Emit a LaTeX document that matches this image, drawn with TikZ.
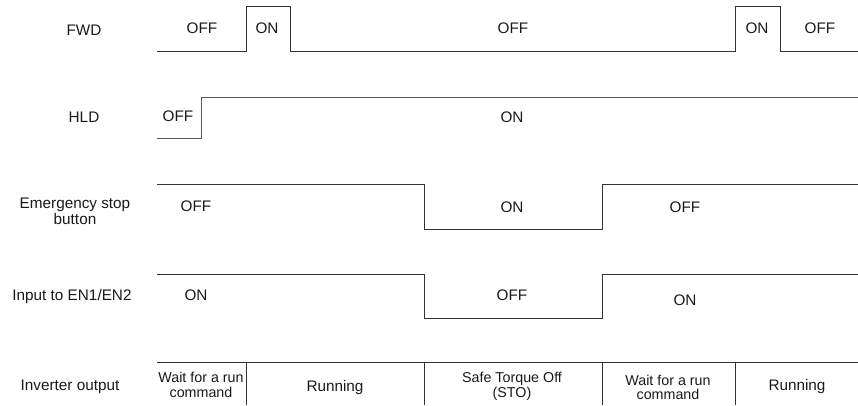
\documentclass[tikz,border=0pt]{standalone}
\usepackage{fontspec}
\setmainfont{Liberation Sans}
\begin{document}
\begin{tikzpicture}[x=1pt,y=-1pt,
  sig/.style={draw=black!80, line width=0.95pt, line join=miter},
  lbl/.style={anchor=base, inner sep=0pt, font=\fontsize{15.3}{17}\selectfont, text=black!90},
  sm/.style={anchor=base, inner sep=0pt, font=\fontsize{14.3}{16}\selectfont, text=black!90, align=center}]
\useasboundingbox (0,0) rectangle (858,405);
% row labels
\node[lbl] (lfwd) at (84,35) {FWD};
\node[lbl] (lhld) at (84,122) {HLD};
\node[lbl] (lem1) at (75,208) {Emergency stop};
\node[lbl] (lem2) at (75,224) {button};
\node[lbl] (len) at (72,300) {Input to EN1/EN2};
\node[lbl] (linv) at (70,390) {Inverter output};
% FWD
\draw[sig] (157,51) -- (246,51) -- (246,6) -- (290,6) -- (290,51) -- (735,51) -- (735,6) -- (780,6) -- (780,51) -- (858,51);
\node[lbl] (f1) at (202,33) {OFF};
\node[lbl] (f2) at (267,33) {ON};
\node[lbl] (f3) at (513,33) {OFF};
\node[lbl] (f4) at (757,33) {ON};
\node[lbl] (f5) at (820,33) {OFF};
% HLD
\draw[sig, draw=black!65] (157,138) -- (201,138) -- (201,97) -- (858,97);
\node[lbl] (h1) at (178,121) {OFF};
\node[lbl] (h2) at (512,122) {ON};
% Emergency stop
\draw[sig] (157,184) -- (424,184) -- (424,229) -- (602,229) -- (602,184) -- (858,184);
\node[lbl] (e1) at (196,211) {OFF};
\node[lbl] (e2) at (512,212) {ON};
\node[lbl] (e3) at (685,212) {OFF};
% EN1/EN2
\draw[sig] (157,274) -- (424,274) -- (424,318) -- (602,318) -- (602,274) -- (858,274);
\node[lbl] (n1) at (196,300) {ON};
\node[lbl] (n2) at (512,300) {OFF};
\node[lbl] (n3) at (685,305) {ON};
% Inverter output
\draw[sig] (157,362) -- (858,362);
\foreach \x in {246,424,602,735} \draw[sig] (\x,362) -- (\x,405);
\node[sm] (i1) at (201,382) {Wait for a run};
\node[sm] (i1b) at (201,397) {command};
\node[lbl] (i2) at (335,391) {Running};
\node[sm] (i3) at (512,382) {Safe Torque Off};
\node[sm] (i3b) at (512,397) {(STO)};
\node[sm] (i4) at (668,385) {Wait for a run};
\node[sm] (i4b) at (668,399) {command};
\node[lbl] (i5) at (797,390) {Running};
\end{tikzpicture}
\end{document}
